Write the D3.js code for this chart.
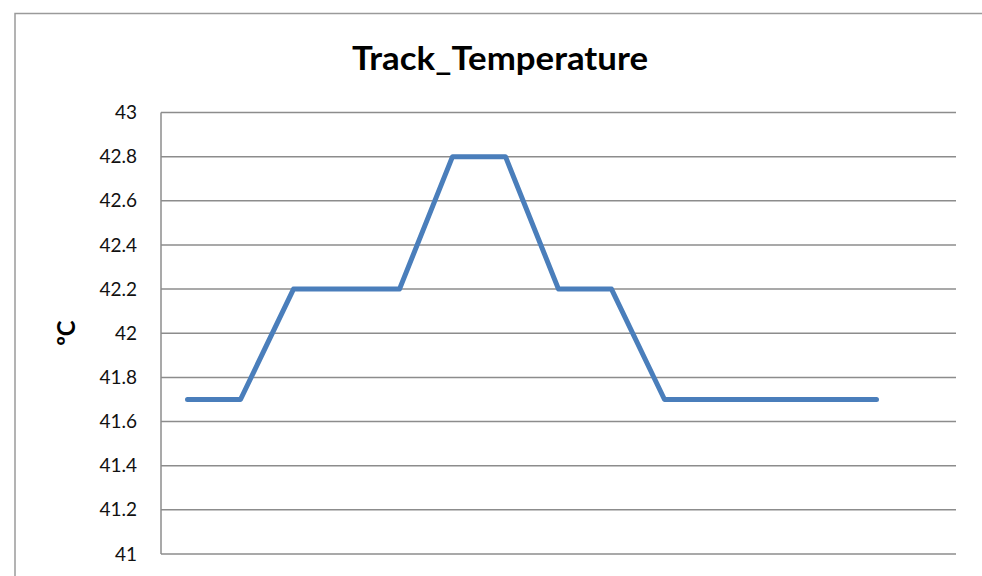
<!DOCTYPE html>
<html><head><meta charset="utf-8">
<script src="https://cdn.jsdelivr.net/npm/d3@7"></script>
<style>html,body{margin:0;padding:0;background:#fff;overflow:hidden}</style>
</head><body>
<svg id="c" width="982" height="576"></svg>
<script>
const categories = ["1","2","3","4","5","6","7","8","9","10","11","12","13","14","15"];
const temperature = [41.7,41.7,42.2,42.2,42.2,42.8,42.8,42.2,42.2,41.7,41.7,41.7,41.7,41.7,null];
const yTicks = [41,41.2,41.4,41.6,41.8,42,42.2,42.4,42.6,42.8,43];
const titleText = "Track_Temperature";
const yLabel = "ºC";

const svg = d3.select("#c");
const font = "Lato, 'Open Sans', sans-serif";
// outer frame
svg.append("rect").attr("x",15).attr("y",13.5).attr("width",1000).attr("height",700)
  .attr("fill","#fff").attr("stroke","#9a9a9a").attr("stroke-width",1.5);

const L=161, R=956, T=112.5, B=554;
const x = d3.scaleBand().domain(categories).range([L,R]);
const y = d3.scaleLinear().domain([41,43]).range([B,T]);

// gridlines
svg.append("g").selectAll("line").data(yTicks).join("line")
  .attr("x1",L).attr("x2",R).attr("y1",d=>y(d)).attr("y2",d=>y(d))
  .attr("stroke","#8c8c8c").attr("stroke-width",1.5);
// y axis line
svg.append("line").attr("x1",L).attr("x2",L).attr("y1",T).attr("y2",B)
  .attr("stroke","#8c8c8c").attr("stroke-width",1.5);

const yAxis = svg.append("g").attr("transform",`translate(${L},0)`)
  .call(d3.axisLeft(y).tickValues(yTicks).tickFormat(d=>String(d)).tickSize(0).tickPadding(24));
yAxis.select(".domain").remove();
yAxis.selectAll("text").attr("font-family",font).attr("font-size",19).attr("fill","#111");

// line
const line = d3.line().defined(d=>d.v!=null)
  .x(d=>x(d.c)+x.bandwidth()/2).y(d=>y(d.v));
const data = categories.map((c,i)=>({c,v:temperature[i]}));
svg.append("path").datum(data).attr("d",line).attr("fill","none")
  .attr("stroke","#4a7ebb").attr("stroke-width",5).attr("stroke-linejoin","round").attr("stroke-linecap","round");

// title
svg.append("text").attr("x",500).attr("y",70).attr("text-anchor","middle")
  .attr("font-family",font).attr("font-weight","bold").attr("font-size",32)
  .attr("textLength",296).attr("lengthAdjust","spacingAndGlyphs").attr("fill","#000").text(titleText);
// y label
svg.append("text").attr("transform","translate(75,333) rotate(-90)").attr("text-anchor","middle")
  .attr("font-family",font).attr("font-weight","bold").attr("font-size",24).attr("fill","#000").text(yLabel);
</script>
</body></html>
